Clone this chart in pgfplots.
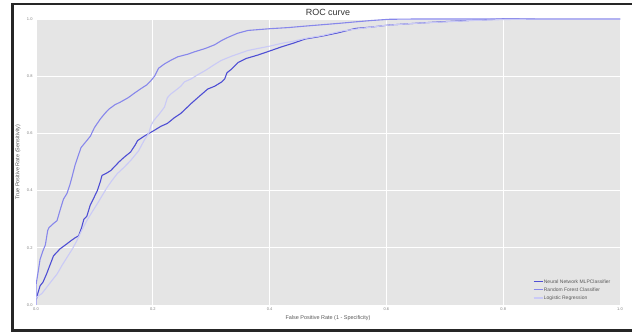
\documentclass[border=0pt]{standalone}
\usepackage{fontspec}
\setmainfont{Liberation Sans}
\usepackage{pgfplots}
\pgfplotsset{compat=1.18}
\definecolor{nncol}{RGB}{78,78,212}
\definecolor{rfcol}{RGB}{135,135,235}
\definecolor{lrcol}{RGB}{202,202,246}
\definecolor{bggray}{RGB}{229,229,229}
\definecolor{ticktext}{RGB}{130,130,130}
\definecolor{labtext}{RGB}{90,90,90}
\begin{document}
\begin{tikzpicture}
\begin{axis}[
  at={(36bp,28bp)}, anchor=south west,
  scale only axis, width=584bp, height=286bp,
  xmin=0, xmax=1, ymin=0, ymax=1,
  axis background/.style={fill=bggray},
  axis line style={draw=none},
  major tick length=0pt,
  grid=major, grid style={white, line width=0.7bp},
  xtick={0,0.2,0.4,0.6,0.8,1.0}, ytick={0,0.2,0.4,0.6,0.8,1.0},
  /pgf/number format/assume math mode=true,
  /pgf/number format/fixed, /pgf/number format/precision=1, /pgf/number format/fixed zerofill,
  ticklabel style={font=\fontsize{4}{5}\selectfont, text=ticktext},
  xticklabel style={yshift=0.5bp},
  xlabel={False Positive Rate (1 - Specificity)},
  ylabel={True Positive Rate (Sensitivity)},
  label style={font=\fontsize{5.5}{6.5}\selectfont, text=labtext},
  xlabel style={at={(axis description cs:0.5,-0.045)}, anchor=center},
  ylabel style={at={(axis description cs:-0.031,0.5)}, anchor=center},
  title={ROC curve},
  every axis title shift=0pt,
  title style={at={(0.5,1)}, anchor=base, yshift=3bp, inner sep=0pt, font=\fontsize{9}{10}\selectfont, text=black!80},
  legend cell align=left,
  legend style={at={(0.851,0.092)}, anchor=north west, draw=none, fill=none,
    font=\fontsize{5}{6}\selectfont, text=labtext, row sep=2.3bp, inner sep=0pt,
    nodes={inner sep=0.6bp, text height=3.6bp, text depth=1bp}},
  legend image code/.code={\draw[#1] (0bp,0bp) -- (9bp,0bp);},
  every axis plot/.append style={line width=1.1bp, line join=round},
]
\addplot[nncol] coordinates {
(0,0) (0,0.014) (0.003,0.04) (0.007,0.067) (0.012,0.08) (0.018,0.108) (0.024,0.14)
(0.03,0.172) (0.036,0.185) (0.041,0.196) (0.047,0.205) (0.053,0.214) (0.06,0.225)
(0.067,0.235) (0.073,0.242) (0.078,0.27) (0.082,0.30) (0.087,0.31) (0.093,0.35)
(0.098,0.37) (0.105,0.40) (0.11,0.43) (0.113,0.453) (0.12,0.46) (0.128,0.47)
(0.135,0.485) (0.142,0.50) (0.15,0.515) (0.162,0.535) (0.17,0.56) (0.174,0.575)
(0.185,0.59) (0.202,0.61) (0.214,0.625) (0.225,0.635) (0.237,0.655) (0.248,0.67)
(0.266,0.705) (0.277,0.725) (0.294,0.755) (0.306,0.765) (0.318,0.78) (0.323,0.79)
(0.327,0.812) (0.335,0.825) (0.346,0.848) (0.36,0.862) (0.38,0.874) (0.4,0.888)
(0.421,0.903) (0.44,0.915) (0.461,0.93) (0.49,0.94) (0.518,0.952) (0.547,0.967)
(0.575,0.972) (0.605,0.979) (0.65,0.985) (0.691,0.99) (0.73,0.994) (0.766,0.997)
(0.8,1) (1,1)
};
\addlegendentry{Neural Network MLPClassifier}
\addplot[rfcol] coordinates {
(0,0) (0,0.07) (0.004,0.12) (0.007,0.16) (0.012,0.19) (0.016,0.21) (0.02,0.26)
(0.022,0.27) (0.03,0.285) (0.036,0.295) (0.041,0.33) (0.047,0.37) (0.053,0.39)
(0.058,0.42) (0.062,0.45) (0.067,0.49) (0.072,0.52) (0.077,0.55) (0.085,0.57)
(0.093,0.59) (0.1,0.62) (0.11,0.65) (0.118,0.67) (0.125,0.685) (0.135,0.70)
(0.145,0.71) (0.158,0.725) (0.168,0.74) (0.18,0.757) (0.19,0.77) (0.197,0.785)
(0.203,0.80) (0.21,0.828) (0.22,0.843) (0.232,0.857) (0.243,0.868) (0.26,0.877)
(0.271,0.885) (0.29,0.897) (0.306,0.91) (0.318,0.925) (0.329,0.936) (0.345,0.95)
(0.363,0.96) (0.4,0.966) (0.432,0.97) (0.46,0.975) (0.49,0.98) (0.52,0.985)
(0.547,0.99) (0.576,0.995) (0.605,0.999) (0.65,1) (1,1)
};
\addlegendentry{Random Forest Classifier}
\addplot[lrcol] coordinates {
(0,0) (0,0.026) (0.01,0.04) (0.018,0.061) (0.027,0.085) (0.036,0.108) (0.045,0.14)
(0.053,0.166) (0.062,0.195) (0.07,0.225) (0.078,0.26) (0.087,0.295) (0.096,0.325)
(0.105,0.354) (0.114,0.385) (0.122,0.412) (0.13,0.435) (0.139,0.459) (0.15,0.48)
(0.162,0.505) (0.17,0.525) (0.176,0.54) (0.185,0.575) (0.193,0.60) (0.197,0.628)
(0.202,0.646) (0.21,0.665) (0.22,0.692) (0.225,0.725) (0.231,0.738) (0.24,0.752)
(0.248,0.765) (0.254,0.78) (0.265,0.79) (0.277,0.805) (0.29,0.82) (0.305,0.84)
(0.317,0.855) (0.335,0.87) (0.363,0.89) (0.38,0.897) (0.4,0.905) (0.421,0.915)
(0.44,0.922) (0.461,0.932) (0.49,0.942) (0.524,0.958) (0.56,0.968) (0.6,0.978)
(0.65,0.985) (0.7,0.99) (0.75,0.995) (0.8,0.998) (0.86,1) (1,1)
};
\addlegendentry{Logistic Regression}
\end{axis}
\draw[line width=2.2bp, black!85] (12.5bp,2.5bp) rectangle (660bp,329bp);
\pgfresetboundingbox
\useasboundingbox (0,0) rectangle (632bp,333bp);
\end{tikzpicture}
\end{document}
